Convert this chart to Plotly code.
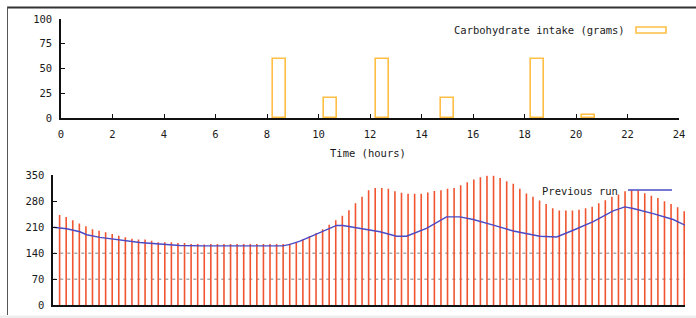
import plotly.graph_objects as go

W, H = 696, 318

# ---- data ----
carb_time = [8.5, 10.45, 12.5, 15.0, 18.5, 20.5]
carb_grams = [60, 20, 60, 20, 60, 3]
carb_width = 0.5

glucose_time = [k * 0.25 for k in range(96)]
glucose_values = [
    243, 238, 229, 220, 213, 205, 201, 197, 192, 187, 183, 179, 177, 177, 174, 170,
    170, 170, 168, 168, 165, 165, 164,
    165, 165, 165, 165, 165, 165, 165, 165, 165, 165, 165, 165,
    166, 170, 178, 186, 194, 205, 217, 229, 241, 256, 275, 292, 310,
    316, 316, 314, 307, 303, 300, 300, 300, 304, 308, 310, 314, 316, 323, 331, 339,
    345, 349, 349, 343, 334, 327, 314, 301,
    292, 282, 273, 261, 255, 255, 255, 257, 261, 265, 275, 283, 292, 298, 307, 310,
    309, 302, 295, 289, 280, 273, 264, 253,
]

prev_time = [-0.24, 0.27, 0.77, 1.03, 1.53, 2.03, 2.55, 3.05, 3.55, 4.07, 4.57, 5.5, 6.5, 7.5,
             8.0, 8.25, 8.49, 8.76, 9.14, 9.52, 9.9, 10.28, 10.53, 10.77, 11.04, 11.42, 12.18,
             12.81, 13.19, 13.95, 14.71, 15.22, 15.73, 16.49, 17.25, 18.26, 18.9, 19.53, 20.29,
             21.05, 21.49, 21.81, 22.57, 23.33, 23.78]
prev_values = [210, 206, 198, 190, 183, 178, 173.5, 169, 166.5, 164, 161, 160, 160, 160,
               160, 162, 160, 164, 172.6, 184, 195, 207, 215, 215, 212, 207, 198,
               186, 186, 207, 238, 238, 231, 216, 200, 186, 184, 202, 225,
               254, 265, 260.5, 247, 231, 215.7]

target_levels = [70, 140]

top_xticks = list(range(0, 25, 2))
top_yticks = [0, 25, 50, 75, 100]
bot_yticks = [0, 70, 140, 210, 280, 350]

# ---- styling ----
FONT = "DejaVu Sans Mono"
FS = 10.5
GOLD = "#ffbf45"
SPIKE = "#f05530"
BLUE = "#4a4ac6"
TXT = "#1a1a1a"


def px(x):
    return x / W


def py(y):
    return 1 - y / H


fig = go.Figure()

# top: carbohydrate bars (outlined)
fig.add_trace(go.Bar(
    x=carb_time, y=carb_grams, width=[carb_width] * len(carb_time),
    marker=dict(color="rgba(0,0,0,0)", line=dict(color=GOLD, width=1.6)),
    xaxis="x", yaxis="y", showlegend=False, hoverinfo="x+y",
))

# bottom: dashed reference lines
for lv in target_levels:
    fig.add_trace(go.Scatter(
        x=[-0.24, 23.78], y=[lv, lv], mode="lines",
        line=dict(color="#aaaaaa", width=1.5, dash="3px,4px"),
        xaxis="x2", yaxis="y2", showlegend=False, hoverinfo="skip",
    ))

# bottom: impulses
sx, sy = [], []
for t, v in zip(glucose_time, glucose_values):
    sx += [t, t, None]
    sy += [0, v, None]
fig.add_trace(go.Scatter(
    x=sx, y=sy, mode="lines", line=dict(color=SPIKE, width=1.6),
    xaxis="x2", yaxis="y2", showlegend=False,
))

# bottom: previous run
fig.add_trace(go.Scatter(
    x=prev_time, y=prev_values, mode="lines", line=dict(color=BLUE, width=1.4),
    xaxis="x2", yaxis="y2", showlegend=False,
))

axis_common = dict(
    automargin=False,
    showgrid=False, zeroline=False, showline=True, linecolor="#111111", linewidth=1.5,
    ticks="inside", ticklen=4, tickwidth=1.2, tickcolor="#111111",
    tickfont=dict(family=FONT, size=FS, color=TXT),
)

fig.update_layout(
    width=W, height=H, margin=dict(l=0, r=0, t=0, b=0, pad=0),
    paper_bgcolor="white", plot_bgcolor="white",
    font=dict(family=FONT, size=FS, color=TXT),
    bargap=0,
    xaxis=dict(domain=[px(61), px(679)], range=[0, 24], tickvals=top_xticks,
               anchor="y", ticklabelstandoff=6, **axis_common),
    yaxis=dict(domain=[py(118), py(19)], range=[0, 100], tickvals=top_yticks,
               anchor="x", ticklabelstandoff=5, **axis_common),
    xaxis2=dict(domain=[px(53.3), px(685)], range=[-0.24, 23.78], showticklabels=False,
                anchor="y2", showgrid=False, zeroline=False, showline=True, automargin=False,
                linecolor="#111111", linewidth=1.5, ticks=""),
    yaxis2=dict(domain=[py(305.3), py(175.3)], range=[0, 350], tickvals=bot_yticks,
                anchor="x2", ticklabelstandoff=5, **axis_common),
)

# x title
fig.add_annotation(text="Time (hours)", x=px(368), y=py(153), xref="paper", yref="paper",
                   showarrow=False, xanchor="center", yanchor="middle",
                   font=dict(family=FONT, size=FS, color=TXT))

# legend top
fig.add_annotation(text="Carbohydrate intake (grams)", x=px(627), y=py(30), xref="paper",
                   yref="paper", showarrow=False, xanchor="right", yanchor="middle",
                   font=dict(family=FONT, size=FS, color=TXT))
fig.add_shape(type="rect", xref="paper", yref="paper", x0=px(636), x1=px(666),
              y0=py(33), y1=py(27), line=dict(color=GOLD, width=1.6), fillcolor="rgba(0,0,0,0)")

# legend bottom
fig.add_annotation(text="Previous run", x=px(620), y=py(191), xref="paper",
                   yref="paper", showarrow=False, xanchor="right", yanchor="middle",
                   font=dict(family=FONT, size=FS, color=TXT))
fig.add_shape(type="line", xref="paper", yref="paper", x0=px(628), x1=px(672),
              y0=py(190), y1=py(190), line=dict(color=BLUE, width=1.4))

# window frame
fig.add_shape(type="line", xref="paper", yref="paper", x0=px(7), x1=1,
              y0=py(7.5), y1=py(7.5), line=dict(color="#333333", width=2))
fig.add_shape(type="line", xref="paper", yref="paper", x0=px(7.5), x1=px(7.5),
              y0=py(7), y1=py(315), line=dict(color="#555555", width=1))
fig.add_shape(type="rect", xref="paper", yref="paper", x0=0, x1=1,
              y0=0, y1=py(315.5), line=dict(width=0), fillcolor="#eeeeee")

fig.write_html(
    "out.html",
    config={"displayModeBar": False},
    post_script="document.body.style.margin='0';document.body.style.overflow='hidden';",
)
